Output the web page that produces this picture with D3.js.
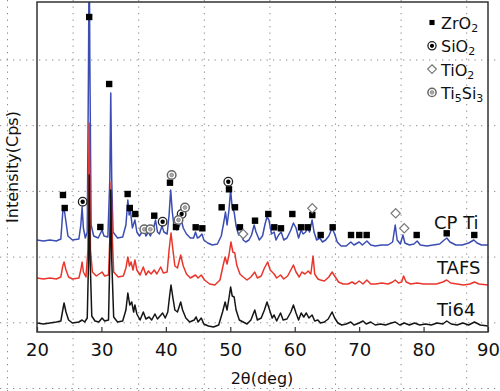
<!DOCTYPE html>
<html><head><meta charset="utf-8">
<script src="https://cdn.jsdelivr.net/npm/d3@7"></script>
<style>html,body{margin:0;padding:0;background:#fff;}svg{display:block;}</style>
</head><body>
<svg id="chart" width="500" height="391"></svg>
<script>
// ---------- data (2θ in deg, intensity in Cps, stacked as plotted) ----------
const xTicks = [20, 30, 40, 50, 60, 70, 80, 90];
const seriesNames = ["CP Ti", "TAFS", "Ti64"];

const cpTi = [[20.0,920],[21.0,910],[22.0,920],[23.0,910],[23.7,930],[24.0,1200],[24.2,1240],[24.5,1100],[24.8,960],[25.5,920],[26.5,930],[26.8,1070],[27.0,1250],[27.2,1040],[27.5,940],[27.8,1000],[28.0,2720],[28.1,4000],[28.2,2720],[28.4,1070],[28.8,960],[29.5,940],[30.1,1020],[30.4,960],[31.0,950],[31.3,1520],[31.45,2390],[31.6,1520],[31.8,1000],[32.5,940],[33.3,950],[33.8,1070],[34.1,1320],[34.3,1170],[34.5,1220],[34.8,1040],[35.2,1120],[35.5,1000],[35.9,960],[36.3,1000],[36.6,1040],[36.9,960],[37.3,1000],[37.6,960],[38.1,1040],[38.4,1120],[38.7,1000],[39.0,980],[39.4,1060],[39.7,1000],[40.2,980],[40.5,1170],[40.75,1420],[41.0,1200],[41.3,1040],[41.7,1020],[42.1,1060],[42.4,1120],[42.7,1040],[43.2,980],[43.8,940],[44.3,940],[44.6,1000],[44.9,940],[45.2,950],[45.6,980],[45.9,920],[46.5,890],[47.2,870],[48.0,880],[48.6,960],[49.0,1100],[49.25,1200],[49.5,1070],[49.8,1220],[50.05,1420],[50.3,1240],[50.6,1200],[50.9,1060],[51.3,970],[51.6,1000],[52.0,920],[52.4,900],[52.9,920],[53.3,970],[53.7,1070],[54.0,1000],[54.5,920],[55.0,960],[55.4,1080],[55.7,1150],[56.0,1120],[56.4,980],[56.8,1000],[57.1,920],[57.5,970],[57.9,1000],[58.3,920],[58.8,940],[59.4,1020],[59.8,1090],[60.2,1040],[60.6,940],[61.0,1020],[61.3,980],[61.7,1000],[62.0,1040],[62.3,1000],[62.7,1120],[63.0,1000],[63.4,920],[63.9,940],[64.3,900],[64.8,920],[65.3,960],[65.8,1040],[66.2,980],[66.6,900],[67.2,860],[68.0,860],[68.7,900],[69.2,870],[70.0,900],[70.5,870],[71.2,910],[71.8,870],[72.5,860],[73.5,870],[74.5,870],[75.2,900],[75.6,1070],[75.9,920],[76.4,880],[76.8,970],[77.1,890],[77.8,870],[78.5,880],[79.0,910],[79.5,870],[80.5,860],[81.5,870],[82.5,880],[83.2,920],[83.6,940],[84.1,900],[85.0,870],[86.0,870],[87.0,890],[87.8,920],[88.3,890],[89.0,870],[90.0,870]];

const tafs = [[20.0,540],[21.0,530],[22.0,540],[23.0,530],[23.7,550],[24.0,660],[24.2,700],[24.5,620],[24.9,550],[25.5,530],[26.5,540],[26.8,620],[27.0,700],[27.2,600],[27.6,550],[27.9,820],[28.1,2090],[28.3,820],[28.6,600],[29.2,560],[30.1,600],[30.5,560],[31.1,570],[31.35,1020],[31.5,1500],[31.65,1020],[31.9,600],[32.6,550],[33.4,560],[33.8,640],[34.1,750],[34.35,660],[34.6,700],[34.9,620],[35.2,720],[35.5,620],[36.0,570],[36.5,650],[36.9,570],[37.3,610],[37.7,580],[38.2,620],[38.6,580],[39.2,650],[39.6,590],[40.2,600],[40.5,820],[40.8,990],[41.1,820],[41.4,660],[41.8,640],[42.3,770],[42.7,660],[43.2,580],[43.8,540],[44.6,570],[45.0,540],[45.5,570],[46.0,520],[46.8,480],[47.6,470],[48.4,520],[48.9,670],[49.2,750],[49.5,680],[49.8,770],[50.1,900],[50.4,800],[50.7,790],[51.0,670],[51.5,580],[52.0,550],[52.6,520],[53.2,550],[53.8,600],[54.2,540],[54.8,560],[55.3,640],[55.8,700],[56.2,620],[56.8,580],[57.2,540],[57.8,570],[58.3,530],[58.9,560],[59.4,620],[59.8,670],[60.2,600],[60.7,550],[61.1,600],[61.6,580],[62.1,610],[62.5,580],[62.85,760],[63.1,580],[63.6,530],[64.0,520],[64.6,510],[65.3,550],[65.8,600],[66.3,550],[66.8,500],[67.5,480],[68.3,480],[68.9,500],[69.4,480],[70.0,510],[70.6,480],[71.2,520],[71.8,480],[72.6,480],[73.5,490],[74.5,480],[75.2,500],[75.6,520],[76.1,490],[76.6,500],[76.9,560],[77.3,500],[78.0,480],[79.0,490],[80.0,480],[81.0,480],[82.0,480],[83.0,500],[83.6,520],[84.2,490],[85.2,480],[86.2,470],[87.2,480],[87.9,500],[88.6,480],[90.0,470]];

const ti64 = [[20.0,90],[21.0,80],[22.0,90],[23.0,100],[23.7,110],[24.0,220],[24.2,290],[24.5,200],[24.9,120],[25.5,90],[26.5,100],[27.0,120],[27.4,100],[27.8,140],[28.0,720],[28.1,1570],[28.25,720],[28.5,160],[29.0,110],[29.6,100],[30.1,140],[30.5,110],[31.1,120],[31.3,720],[31.45,1420],[31.6,720],[31.9,150],[32.5,100],[33.3,110],[33.8,220],[34.1,390],[34.4,270],[34.7,300],[35.0,200],[35.2,270],[35.5,180],[36.0,120],[36.5,200],[36.9,130],[37.4,150],[37.8,120],[38.3,180],[38.7,130],[39.1,160],[39.5,190],[39.9,140],[40.3,200],[40.6,370],[40.8,470],[41.1,340],[41.4,220],[41.8,200],[42.3,300],[42.6,220],[43.1,140],[43.7,100],[44.4,120],[44.7,150],[45.0,100],[45.5,140],[45.9,80],[46.6,60],[47.4,50],[48.2,70],[48.8,200],[49.2,300],[49.5,220],[49.8,340],[50.05,450],[50.3,360],[50.6,350],[50.9,220],[51.4,120],[52.0,100],[52.6,80],[53.2,120],[53.8,220],[54.2,120],[54.8,140],[55.3,220],[55.7,300],[56.1,220],[56.5,140],[56.8,170],[57.2,110],[57.8,190],[58.2,120],[58.8,130],[59.4,200],[59.8,270],[60.2,190],[60.6,120],[61.0,190],[61.4,150],[61.8,190],[62.2,140],[62.7,170],[63.1,110],[63.6,120],[64.0,90],[64.6,100],[65.2,130],[65.8,200],[66.2,140],[66.7,90],[67.3,70],[68.0,80],[68.7,100],[69.2,70],[70.0,90],[70.6,110],[71.1,80],[71.8,100],[72.5,70],[73.3,80],[74.1,70],[75.0,90],[75.6,100],[76.3,70],[77.0,90],[77.8,70],[78.6,90],[79.4,70],[80.3,80],[81.2,70],[82.1,90],[83.0,80],[83.6,110],[84.3,80],[85.2,70],[86.1,90],[87.0,70],[87.9,100],[88.8,70],[90.0,60]];

// phase markers [2θ, intensity]
const zro2Peaks = [[24.03,1370],[24.3,1240],[28.1,3150],[29.83,1050],[31.2,2480],[34.07,1380],[34.4,1240],[35.26,1180],[38.2,1163],[40.64,1493],[41.57,1050],[44.63,1047],[45.66,1037],[48.66,1247],[49.8,1427],[50.73,1247],[51.5,1047],[53.84,1113],[55.9,1180],[56.83,1047],[57.87,1037],[59.63,1180],[60.98,1047],[62.01,1047],[62.73,1170],[64.03,970],[65.89,1047],[68.74,970],[70.02,970],[71.17,970],[78.93,970],[83.59,987],[87.87,970]];
const sio2Peaks = [[27.09,1303],[39.5,1103],[42.45,1180],[49.69,1503]];
const tio2Peaks = [[52.0,980],[62.73,1237],[75.67,1187],[77.0,1037]];
const ti5si3Peaks = [[36.65,1027],[37.59,1027],[40.9,1570],[41.96,1120],[42.97,1245]];

const legendItems = [
  {key:"zro2", parts:[["ZrO",0],["2",1]]},
  {key:"sio2", parts:[["SiO",0],["2",1]]},
  {key:"tio2", parts:[["TiO",0],["2",1]]},
  {key:"ti5si3", parts:[["Ti",0],["5",1],["Si",0],["3",1]]}
];

// ---------- drawing ----------
const W = 500, H = 391;
const L = 37, R = 488, T = 2, B = 332;
const svg = d3.select("#chart");
const FONT = "DejaVu Sans, sans-serif";

const x = d3.scaleLinear().domain([20, 90]).range([L, R]);
const y = d3.scaleLinear().domain([0, 3300]).range([B, T]);

// background dotted grid (covers whole picture)
const gridG = svg.append("g").attr("stroke", "#8a8a8a").attr("stroke-width", 1)
  .attr("stroke-dasharray", "1.3,5.2");
d3.range(7.5, W, 65.6).forEach(gx => gridG.append("line")
  .attr("x1", gx).attr("x2", gx).attr("y1", 0).attr("y2", H));
d3.range(-5.7, H, 65.7).forEach(gy => gridG.append("line")
  .attr("x1", 0).attr("x2", W).attr("y1", gy).attr("y2", gy));

svg.append("defs").append("clipPath").attr("id", "plotClip")
  .append("rect").attr("x", L).attr("y", T).attr("width", R - L).attr("height", B - T);

const line = d3.line().x(d => x(d[0])).y(d => y(d[1]));
const traces = [
  {data: cpTi, color: "#3b4db3"},
  {data: tafs, color: "#e8362c"},
  {data: ti64, color: "#151515"}
];
const plotG = svg.append("g").attr("clip-path", "url(#plotClip)");
traces.forEach(t => plotG.append("path").datum(t.data)
  .attr("d", line).attr("fill", "none").attr("stroke", t.color)
  .attr("stroke-width", 1.5).attr("stroke-linejoin", "round"));

// marker symbols
function drawMarker(g, kind, cx, cy, s) {
  s = s || 1;
  if (kind === "zro2") {
    g.append("rect").attr("x", cx - 3.2*s).attr("y", cy - 3.2*s)
      .attr("width", 6.4*s).attr("height", 6.4*s).attr("fill", "#000");
  } else if (kind === "sio2") {
    g.append("circle").attr("cx", cx).attr("cy", cy).attr("r", 4.3*s)
      .attr("fill", "#fff").attr("stroke", "#222").attr("stroke-width", 1.3);
    g.append("circle").attr("cx", cx).attr("cy", cy).attr("r", 2.2*s).attr("fill", "#000");
  } else if (kind === "tio2") {
    const r = 4.6*s;
    g.append("path").attr("d", `M${cx},${cy-r}L${cx+r},${cy}L${cx},${cy+r}L${cx-r},${cy}Z`)
      .attr("fill", "#fff").attr("stroke", "#777").attr("stroke-width", 1.2);
  } else {
    g.append("circle").attr("cx", cx).attr("cy", cy).attr("r", 4.3*s)
      .attr("fill", "#fff").attr("stroke", "#666").attr("stroke-width", 1.5);
    g.append("circle").attr("cx", cx).attr("cy", cy).attr("r", 1.9*s)
      .attr("fill", "#aaa").attr("stroke", "#888").attr("stroke-width", 0.8);
  }
}
const markG = svg.append("g");
[["zro2", zro2Peaks], ["sio2", sio2Peaks], ["tio2", tio2Peaks], ["ti5si3", ti5si3Peaks]]
  .forEach(([k, arr]) => arr.forEach(d => drawMarker(markG, k, x(d[0]), y(d[1]))));

// frame
svg.append("rect").attr("x", L).attr("y", T).attr("width", R - L).attr("height", B - T)
  .attr("fill", "none").attr("stroke", "#333").attr("stroke-width", 1.5);

// x axis
const xAxis = d3.axisBottom(x).tickValues(xTicks).tickSizeInner(-5).tickSizeOuter(0);
const axG = svg.append("g").attr("transform", `translate(0,${B})`).call(xAxis);
axG.select(".domain").remove();
axG.selectAll(".tick line").attr("stroke", "#333").attr("stroke-width", 1.2);
axG.selectAll(".tick text").attr("y", 24).attr("dy", 0)
  .attr("font-family", FONT).attr("font-size", 18).attr("fill", "#111");

// axis titles
svg.append("text").attr("x", 262).attr("y", 384).attr("text-anchor", "middle")
  .attr("font-family", FONT).attr("font-size", 16).attr("fill", "#111").text("2θ(deg)");
svg.append("text").attr("transform", "translate(18,167) rotate(-90)")
  .attr("text-anchor", "middle").attr("font-family", FONT).attr("font-size", 16)
  .attr("fill", "#111").text("Intensity(Cps)");

// series labels
const labelPos = [[434, 229], [437, 274], [437, 316]];
seriesNames.forEach((n, i) => svg.append("text")
  .attr("x", labelPos[i][0]).attr("y", labelPos[i][1])
  .attr("font-family", FONT).attr("font-size", 18).attr("fill", "#111").text(n));

// legend
const legG = svg.append("g");
legendItems.forEach((it, i) => {
  const cy = 22.5 + i * 23.3;
  drawMarker(legG, it.key, 432, cy, it.key === "zro2" ? 0.8 : 0.95);
  const t = legG.append("text").attr("x", 441).attr("y", cy + 6.5)
    .attr("font-family", FONT).attr("font-size", 16).attr("fill", "#111");
  it.parts.forEach(([s, sub]) => {
    t.append("tspan").attr("font-size", sub ? 11 : 16)
      .attr("dy", sub ? 3 : (s === it.parts[0][0] ? 0 : -3)).text(s);
  });
});
</script>
</body></html>
